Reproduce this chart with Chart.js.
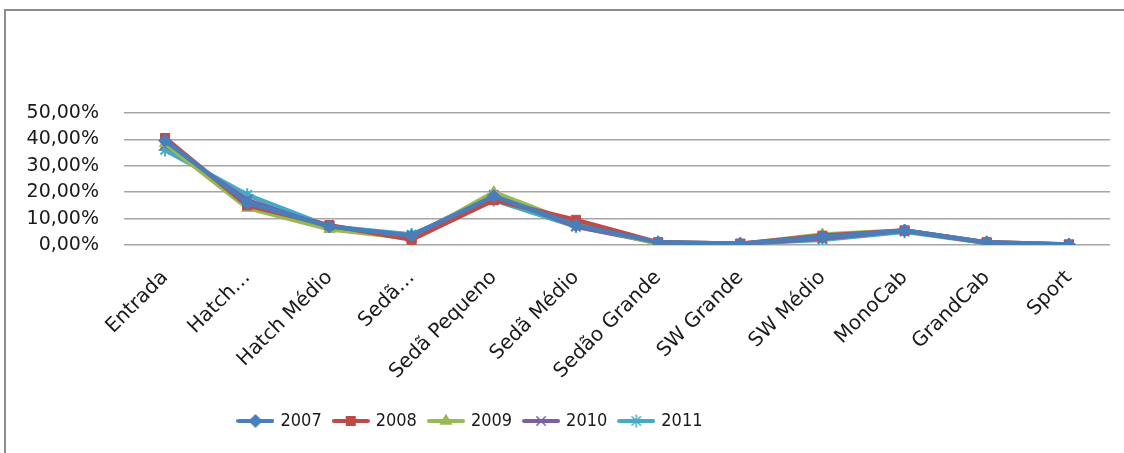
<!DOCTYPE html>
<html>
<head>
<meta charset="utf-8">
<script src="https://cdn.jsdelivr.net/npm/chart.js@4"></script>
<style>
  html, body { margin: 0; background: #fff; overflow: hidden; width: 1124px; height: 453px; }
  #frame { position: absolute; left: 4px; top: 9px; width: 1300px; height: 450px;
           border-left: 2px solid #8c8c8c; border-top: 2px solid #8c8c8c; background: #fff; }
  #wrap { position: absolute; left: 0; top: 0; width: 1118px; height: 442px; }
</style>
</head>
<body>
<div id="frame"><div id="wrap"><canvas id="chart"></canvas></div></div>
<script>
// categories
const segments = ["Entrada", "Hatch…", "Hatch Médio", "Sedã…", "Sedã Pequeno", "Sedã Médio",
                  "Sedão Grande", "SW Grande", "SW Médio", "MonoCab", "GrandCab", "Sport"];
const years = ["2007", "2008", "2009", "2010", "2011"];

// share per segment (%)
const y2007 = [39.5, 16, 7, 3.5, 18.5, 7.5, 1, 0.5, 3, 5.5, 1, 0.2];
const y2008 = [40.5, 15, 7.5, 2, 17, 9.5, 1, 0.5, 3.5, 5.5, 1, 0.2];
const y2009 = [38.5, 14, 6, 2.5, 20, 8, 0.5, 0.3, 4, 5.5, 1, 0.1];
const y2010 = [38, 17, 6.5, 3.5, 19, 7, 0.8, 0.4, 2.5, 5.5, 0.8, 0.2];
const y2011 = [36, 19, 7, 4, 17, 7, 1, 0.5, 2, 5, 0.8, 0.2];

const colors = ["#4a7ebb", "#be4b48", "#98b954", "#7d60a0", "#46aac5"];
const markers = ["rectRot", "rect", "triangle", "crossRot", "star"];
const series = [y2007, y2008, y2009, y2010, y2011];

const FONT = "'DejaVu Sans', sans-serif";
const LEGEND_FONT = "'Liberation Sans Narrow', 'DejaVu Sans Condensed', sans-serif";

// legend icon: line with the marker in the middle
function legendIcon(color, style) {
    const c = document.createElement('canvas');
    c.width = 38; c.height = 16;
    const g = c.getContext('2d');
    g.strokeStyle = color; g.lineWidth = 4; g.lineCap = 'round';
    g.beginPath(); g.moveTo(2, 8); g.lineTo(36, 8); g.stroke();
    g.fillStyle = color; g.lineWidth = 1.5;
    Chart.helpers.drawPoint(g, {pointStyle: style, radius: 6, rotation: 0, borderWidth: 1.5}, 19, 8);
    return c;
}

// the legend in the picture sits left of the middle
const legendShift = {
    id: 'legendShift',
    afterLayout(chart) {
        const lg = chart.legend;
        const d = 465 - (lg.left + lg.right) / 2;
        lg.left += d; lg.right += d;
    }
};

const datasets = years.map((y, i) => ({
    label: y,
    data: series[i],
    borderColor: colors[i],
    backgroundColor: colors[i],
    borderWidth: 4.5,
    pointStyle: markers[i],
    pointRadius: 6.5,
    pointBorderWidth: (markers[i] === 'crossRot' || markers[i] === 'star') ? 2 : 1,
    tension: 0
}));

new Chart(document.getElementById('chart'), {
    type: 'line',
    data: { labels: segments, datasets: datasets },
    plugins: [legendShift],
    options: {
        responsive: true,
        maintainAspectRatio: false,
        animation: false,
        layout: { padding: { top: 102, right: 14, left: 8, bottom: 13 } },
        plugins: {
            tooltip: { enabled: false },
            legend: {
                position: 'bottom',
                labels: {
                    color: '#1a1a1a',
                    font: { family: LEGEND_FONT, size: 18 },
                    usePointStyle: true,
                    pointStyleWidth: 32,
                    padding: 13,
                    generateLabels: chart => chart.data.datasets.map((ds, i) => ({
                        text: ds.label,
                        datasetIndex: i,
                        fillStyle: ds.borderColor,
                        strokeStyle: ds.borderColor,
                        fontColor: '#1a1a1a',
                        pointStyle: legendIcon(ds.borderColor, ds.pointStyle),
                        lineWidth: 0
                    }))
                }
            }
        },
        scales: {
            x: {
                offset: true,
                grid: { display: false },
                border: { display: false },
                afterFit: s => { s.height = 154; },
                ticks: { color: '#1a1a1a', font: { family: FONT, size: 20 },
                         minRotation: 45, maxRotation: 45, autoSkip: false, padding: 13 }
            },
            y: {
                min: 0, max: 50,
                grid: { color: '#a6a6a6', lineWidth: 1.5, drawTicks: false },
                border: { display: false },
                afterFit: s => { s.width = 110; },
                ticks: { stepSize: 10, color: '#1a1a1a', font: { family: FONT, size: 19 }, padding: 25,
                         callback: v => v.toFixed(2).replace('.', ',') + '%' }
            }
        }
    }
});
</script>
</body>
</html>
